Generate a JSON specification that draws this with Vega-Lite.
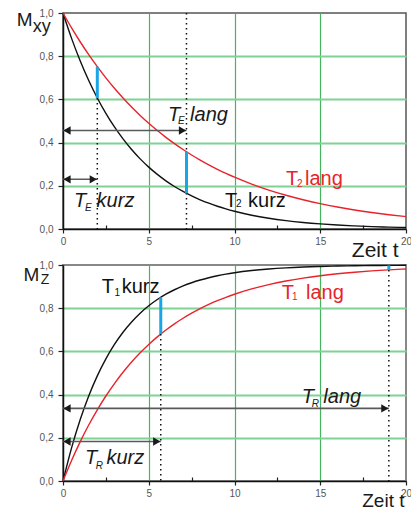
{
  "$schema": "https://vega.github.io/schema/vega-lite/v6.json",
  "padding": {"left": 15, "top": 7, "right": 0, "bottom": 0},
  "bounds": "flush",
  "spacing": 36,
  "config": {
    "font": "Liberation Sans",
    "axis": {
      "labelFont": "Liberation Sans",
      "titleFont": "Liberation Sans",
      "labelFontSize": 10,
      "labelColor": "#555555",
      "domainColor": "#111111",
      "domainWidth": 1.5,
      "tickColor": "#222222",
      "tickWidth": 1.2,
      "labelOverlap": false,
      "labelFlush": false,
      "labelBound": false
    },
    "axisX": {
      "labelExpr": "datum.value % 5 == 0 ? format(datum.value, 'd') : ''",
      "grid": true,
      "gridColor": "#45b45f",
      "gridWidth": 1.2,
      "gridOpacity": {"condition": {"test": "datum.value % 5 != 0 || datum.value == 0 || datum.value == 20", "value": 0}, "value": 1},
      "tickSize": {"condition": {"test": "datum.value % 5 != 0", "value": -4}, "value": 4},
      "labelPadding": 3,
      "titleFontWeight": "normal",
      "titleColor": "#1a1a1a",
      "titleAlign": "right",
      "titleBaseline": "alphabetic"
    },
    "axisY": {
      "labelExpr": "round(datum.value * 10) % 2 == 0 ? replace(format(datum.value, '.1f'), '.', ',') : ''",
      "grid": true,
      "gridColor": "#7fd196",
      "gridWidth": 2,
      "gridOpacity": {"condition": {"test": "round(datum.value * 10) % 2 == 1 || datum.value < 0.05 || datum.value > 0.95", "value": 0}, "value": 1},
      "tickSize": {"condition": {"test": "round(datum.value * 10) % 2 == 1", "value": -4}, "value": 5},
      "labelPadding": 5,
      "title": null
    }
  },
  "datasets": {
    "mxy": [
      {"t": 0, "kurz": 1, "lang": 1},
      {"t": 0.5, "kurz": 0.8825, "lang": 0.9311},
      {"t": 1, "kurz": 0.7788, "lang": 0.8669},
      {"t": 1.5, "kurz": 0.6873, "lang": 0.8071},
      {"t": 2, "kurz": 0.6065, "lang": 0.7515},
      {"t": 2.5, "kurz": 0.5353, "lang": 0.6997},
      {"t": 3, "kurz": 0.4724, "lang": 0.6514},
      {"t": 3.5, "kurz": 0.4169, "lang": 0.6065},
      {"t": 4, "kurz": 0.3679, "lang": 0.5647},
      {"t": 4.5, "kurz": 0.3247, "lang": 0.5258},
      {"t": 5, "kurz": 0.2865, "lang": 0.4895},
      {"t": 5.5, "kurz": 0.2528, "lang": 0.4558},
      {"t": 6, "kurz": 0.2231, "lang": 0.4244},
      {"t": 6.5, "kurz": 0.1969, "lang": 0.3951},
      {"t": 7, "kurz": 0.1738, "lang": 0.3679},
      {"t": 7.5, "kurz": 0.1534, "lang": 0.3425},
      {"t": 8, "kurz": 0.1353, "lang": 0.3189},
      {"t": 8.5, "kurz": 0.1194, "lang": 0.2969},
      {"t": 9, "kurz": 0.1054, "lang": 0.2765},
      {"t": 9.5, "kurz": 0.093, "lang": 0.2574},
      {"t": 10, "kurz": 0.0821, "lang": 0.2397},
      {"t": 11, "kurz": 0.0639, "lang": 0.2079},
      {"t": 12, "kurz": 0.0498, "lang": 0.1801},
      {"t": 13, "kurz": 0.0388, "lang": 0.1561},
      {"t": 14, "kurz": 0.0302, "lang": 0.1353},
      {"t": 15, "kurz": 0.0235, "lang": 0.1173},
      {"t": 16, "kurz": 0.0183, "lang": 0.1017},
      {"t": 17, "kurz": 0.0143, "lang": 0.0881},
      {"t": 18, "kurz": 0.0111, "lang": 0.0764},
      {"t": 19, "kurz": 0.0087, "lang": 0.0662},
      {"t": 20, "kurz": 0.0067, "lang": 0.0574}
    ],
    "mz": [
      {"t": 0, "kurz": 0, "lang": 0},
      {"t": 0.5, "kurz": 0.1535, "lang": 0.0952},
      {"t": 1, "kurz": 0.2835, "lang": 0.1813},
      {"t": 1.5, "kurz": 0.3935, "lang": 0.2592},
      {"t": 2, "kurz": 0.4866, "lang": 0.3297},
      {"t": 2.5, "kurz": 0.5654, "lang": 0.3935},
      {"t": 3, "kurz": 0.6321, "lang": 0.4512},
      {"t": 3.5, "kurz": 0.6886, "lang": 0.5034},
      {"t": 4, "kurz": 0.7364, "lang": 0.5507},
      {"t": 4.5, "kurz": 0.7769, "lang": 0.5934},
      {"t": 5, "kurz": 0.8111, "lang": 0.6321},
      {"t": 5.5, "kurz": 0.8401, "lang": 0.6671},
      {"t": 6, "kurz": 0.8647, "lang": 0.6988},
      {"t": 6.5, "kurz": 0.8854, "lang": 0.7275},
      {"t": 7, "kurz": 0.903, "lang": 0.7534},
      {"t": 7.5, "kurz": 0.9179, "lang": 0.7769},
      {"t": 8, "kurz": 0.9305, "lang": 0.7981},
      {"t": 8.5, "kurz": 0.9412, "lang": 0.8173},
      {"t": 9, "kurz": 0.9502, "lang": 0.8347},
      {"t": 9.5, "kurz": 0.9579, "lang": 0.8504},
      {"t": 10, "kurz": 0.9643, "lang": 0.8647},
      {"t": 11, "kurz": 0.9744, "lang": 0.8892},
      {"t": 12, "kurz": 0.9817, "lang": 0.9093},
      {"t": 13, "kurz": 0.9869, "lang": 0.9257},
      {"t": 14, "kurz": 0.9906, "lang": 0.9392},
      {"t": 15, "kurz": 0.9933, "lang": 0.9502},
      {"t": 16, "kurz": 0.9952, "lang": 0.9592},
      {"t": 17, "kurz": 0.9965, "lang": 0.9666},
      {"t": 18, "kurz": 0.9975, "lang": 0.9727},
      {"t": 19, "kurz": 0.9982, "lang": 0.9776},
      {"t": 20, "kurz": 0.9987, "lang": 0.9817}
    ],
    "mxy_zeitpunkte": [
      {"t": 2, "kurz": 0.6065, "lang": 0.7515, "linie_bis": 0.6065},
      {"t": 7.2, "kurz": 0.1653, "lang": 0.3575, "linie_bis": 1}
    ],
    "mz_zeitpunkte": [
      {"t": 5.7, "kurz": 0.8504, "lang": 0.6802, "linie_bis": 0.6802},
      {"t": 19, "kurz": 0.9982, "lang": 0.9776, "linie_bis": 1}
    ],
    "mxy_pfeile": [
      {"von": 0, "bis": 7.2, "M": 0.456},
      {"von": 0, "bis": 2, "M": 0.23}
    ],
    "mz_pfeile": [
      {"von": 0, "bis": 19, "M": 0.336},
      {"von": 0, "bis": 5.7, "M": 0.183}
    ],
    "mxy_text": [
      {"t": -2.7, "M": 0.938, "text": "M", "dauer": "ohne", "teil": "achse", "schrift": "normal"},
      {"t": -1.77, "M": 0.911, "text": "xy", "dauer": "ohne", "teil": "achse_index", "schrift": "normal"},
      {"t": 13.0, "M": 0.204, "text": "T", "dauer": "lang", "teil": "haupt", "schrift": "normal"},
      {"t": 13.64, "M": 0.194, "text": "2", "dauer": "lang", "teil": "index", "schrift": "normal"},
      {"t": 14.11, "M": 0.204, "text": "lang", "dauer": "lang", "teil": "haupt", "schrift": "normal"},
      {"t": 9.45, "M": 0.103, "text": "T", "dauer": "kurz", "teil": "haupt", "schrift": "normal"},
      {"t": 10.09, "M": 0.1, "text": "2", "dauer": "kurz", "teil": "index", "schrift": "normal"},
      {"t": 10.79, "M": 0.103, "text": "kurz", "dauer": "kurz", "teil": "haupt", "schrift": "normal"},
      {"t": 6.12, "M": 0.501, "text": "T", "dauer": "ohne", "teil": "haupt", "schrift": "kursiv"},
      {"t": 6.71, "M": 0.486, "text": "E", "dauer": "ohne", "teil": "index", "schrift": "kursiv"},
      {"t": 7.41, "M": 0.501, "text": "lang", "dauer": "ohne", "teil": "haupt", "schrift": "kursiv"},
      {"t": 0.64, "M": 0.1, "text": "T", "dauer": "ohne", "teil": "haupt", "schrift": "kursiv"},
      {"t": 1.28, "M": 0.085, "text": "E", "dauer": "ohne", "teil": "index", "schrift": "kursiv"},
      {"t": 1.96, "M": 0.1, "text": "kurz", "dauer": "ohne", "teil": "haupt", "schrift": "kursiv"}
    ],
    "mz_text": [
      {"t": -2.31, "M": 0.925, "text": "M", "dauer": "ohne", "teil": "achse", "schrift": "normal"},
      {"t": -1.3, "M": 0.912, "text": "Z", "dauer": "ohne", "teil": "achse_index_klein", "schrift": "normal"},
      {"t": 2.26, "M": 0.869, "text": "T", "dauer": "kurz", "teil": "haupt", "schrift": "normal"},
      {"t": 3.0, "M": 0.858, "text": "1", "dauer": "kurz", "teil": "index", "schrift": "normal"},
      {"t": 3.42, "M": 0.869, "text": "kurz", "dauer": "kurz", "teil": "haupt", "schrift": "normal"},
      {"t": 12.75, "M": 0.843, "text": "T", "dauer": "lang", "teil": "haupt", "schrift": "normal"},
      {"t": 13.35, "M": 0.838, "text": "1", "dauer": "lang", "teil": "index", "schrift": "normal"},
      {"t": 14.17, "M": 0.843, "text": "lang", "dauer": "lang", "teil": "haupt", "schrift": "normal"},
      {"t": 13.92, "M": 0.361, "text": "T", "dauer": "ohne", "teil": "haupt", "schrift": "kursiv"},
      {"t": 14.5, "M": 0.341, "text": "R", "dauer": "ohne", "teil": "index", "schrift": "kursiv"},
      {"t": 15.18, "M": 0.361, "text": "lang", "dauer": "ohne", "teil": "haupt", "schrift": "kursiv"},
      {"t": 1.28, "M": 0.079, "text": "T", "dauer": "ohne", "teil": "haupt", "schrift": "kursiv"},
      {"t": 1.91, "M": 0.056, "text": "R", "dauer": "ohne", "teil": "index", "schrift": "kursiv"},
      {"t": 2.53, "M": 0.079, "text": "kurz", "dauer": "ohne", "teil": "haupt", "schrift": "kursiv"}
    ]
  },
  "vconcat": [
    {
      "width": 343,
      "height": 216,
      "view": {"stroke": "#555555", "strokeWidth": 1.5},
      "layer": [
        {
          "data": {"name": "mxy"},
          "transform": [{"fold": ["kurz", "lang"], "as": ["dauer", "M"]}],
          "mark": {"type": "line", "strokeWidth": 1.4, "interpolate": "monotone"},
          "encoding": {
            "x": {"field": "t", "type": "quantitative", "scale": {"domain": [0, 20], "nice": false},
                  "axis": {"values": [0, 2.5, 5, 7.5, 10, 12.5, 15, 17.5, 20], "title": "Zeit t", "titleFontSize": 21, "titleX": 335, "titleY": 27}},
            "y": {"field": "M", "type": "quantitative", "scale": {"domain": [0, 1], "nice": false},
                  "axis": {"values": [0, 0.1, 0.2, 0.3, 0.4, 0.5, 0.6, 0.7, 0.8, 0.9, 1]}},
            "color": {"field": "dauer", "type": "nominal", "legend": null,
                      "scale": {"domain": ["kurz", "lang", "ohne"], "range": ["#111111", "#e8232b", "#1a1a1a"]}}
          }
        },
        {
          "data": {"name": "mxy_zeitpunkte"},
          "mark": {"type": "rule", "color": "#111111", "strokeWidth": 1.5, "strokeDash": [1.5, 3.5]},
          "encoding": {
            "x": {"field": "t", "type": "quantitative"},
            "y": {"field": "linie_bis", "type": "quantitative"},
            "y2": {"datum": 0}
          }
        },
        {
          "data": {"name": "mxy_zeitpunkte"},
          "mark": {"type": "rule", "color": "#1aa6e6", "strokeWidth": 3},
          "encoding": {
            "x": {"field": "t", "type": "quantitative"},
            "y": {"field": "kurz", "type": "quantitative"},
            "y2": {"field": "lang"}
          }
        },
        {
          "data": {"name": "mxy_pfeile"},
          "mark": {"type": "rule", "color": "#5a5a5a", "strokeWidth": 1.6},
          "encoding": {
            "x": {"field": "von", "type": "quantitative"},
            "x2": {"field": "bis"},
            "y": {"field": "M", "type": "quantitative"}
          }
        },
        {
          "data": {"name": "mxy_pfeile"},
          "mark": {"type": "point", "shape": "triangle-left", "filled": true, "size": 70, "opacity": 1, "color": "#1a1a1a", "xOffset": 4},
          "encoding": {
            "x": {"field": "von", "type": "quantitative"},
            "y": {"field": "M", "type": "quantitative"}
          }
        },
        {
          "data": {"name": "mxy_pfeile"},
          "mark": {"type": "point", "shape": "triangle-right", "filled": true, "size": 70, "opacity": 1, "color": "#1a1a1a", "xOffset": -4},
          "encoding": {
            "x": {"field": "bis", "type": "quantitative"},
            "y": {"field": "M", "type": "quantitative"}
          }
        },
        {
          "data": {"name": "mxy_text"},
          "transform": [{"filter": "datum.schrift == 'normal'"}],
          "mark": {"type": "text", "align": "left", "baseline": "alphabetic"},
          "encoding": {
            "x": {"field": "t", "type": "quantitative"},
            "y": {"field": "M", "type": "quantitative"},
            "text": {"field": "text"},
            "color": {"field": "dauer", "type": "nominal", "legend": null},
            "size": {"condition": [
              {"test": "datum.teil == 'index'", "value": 10},
              {"test": "datum.teil == 'achse'", "value": 19},
              {"test": "datum.teil == 'achse_index'", "value": 18}
            ], "value": 20}
          }
        },
        {
          "data": {"name": "mxy_text"},
          "transform": [{"filter": "datum.schrift == 'kursiv'"}],
          "mark": {"type": "text", "align": "left", "baseline": "alphabetic", "fontStyle": "italic"},
          "encoding": {
            "x": {"field": "t", "type": "quantitative"},
            "y": {"field": "M", "type": "quantitative"},
            "text": {"field": "text"},
            "color": {"field": "dauer", "type": "nominal", "legend": null},
            "size": {"condition": {"test": "datum.teil == 'index'", "value": 10}, "value": 20}
          }
        }
      ]
    },
    {
      "width": 343,
      "height": 216,
      "view": {"stroke": "#888888", "strokeWidth": 2},
      "layer": [
        {
          "data": {"name": "mz"},
          "transform": [{"fold": ["kurz", "lang"], "as": ["dauer", "M"]}],
          "mark": {"type": "line", "strokeWidth": 1.4, "interpolate": "monotone"},
          "encoding": {
            "x": {"field": "t", "type": "quantitative", "scale": {"domain": [0, 20], "nice": false},
                  "axis": {"values": [0, 2.5, 5, 7.5, 10, 12.5, 15, 17.5, 20], "title": "Zeit t", "titleFontSize": 19, "titleX": 341, "titleY": 25}},
            "y": {"field": "M", "type": "quantitative", "scale": {"domain": [0, 1], "nice": false},
                  "axis": {"values": [0, 0.1, 0.2, 0.3, 0.4, 0.5, 0.6, 0.7, 0.8, 0.9, 1]}},
            "color": {"field": "dauer", "type": "nominal", "legend": null,
                      "scale": {"domain": ["kurz", "lang", "ohne"], "range": ["#111111", "#e8232b", "#1a1a1a"]}}
          }
        },
        {
          "data": {"name": "mz_zeitpunkte"},
          "mark": {"type": "rule", "color": "#111111", "strokeWidth": 1.5, "strokeDash": [1.5, 3.5]},
          "encoding": {
            "x": {"field": "t", "type": "quantitative"},
            "y": {"field": "linie_bis", "type": "quantitative"},
            "y2": {"datum": 0}
          }
        },
        {
          "data": {"name": "mz_zeitpunkte"},
          "mark": {"type": "rule", "color": "#1aa6e6", "strokeWidth": 3},
          "encoding": {
            "x": {"field": "t", "type": "quantitative"},
            "y": {"field": "kurz", "type": "quantitative"},
            "y2": {"field": "lang"}
          }
        },
        {
          "data": {"name": "mz_pfeile"},
          "mark": {"type": "rule", "color": "#5a5a5a", "strokeWidth": 1.6},
          "encoding": {
            "x": {"field": "von", "type": "quantitative"},
            "x2": {"field": "bis"},
            "y": {"field": "M", "type": "quantitative"}
          }
        },
        {
          "data": {"name": "mz_pfeile"},
          "mark": {"type": "point", "shape": "triangle-left", "filled": true, "size": 70, "opacity": 1, "color": "#1a1a1a", "xOffset": 4},
          "encoding": {
            "x": {"field": "von", "type": "quantitative"},
            "y": {"field": "M", "type": "quantitative"}
          }
        },
        {
          "data": {"name": "mz_pfeile"},
          "mark": {"type": "point", "shape": "triangle-right", "filled": true, "size": 70, "opacity": 1, "color": "#1a1a1a", "xOffset": -4},
          "encoding": {
            "x": {"field": "bis", "type": "quantitative"},
            "y": {"field": "M", "type": "quantitative"}
          }
        },
        {
          "data": {"name": "mz_text"},
          "transform": [{"filter": "datum.schrift == 'normal'"}],
          "mark": {"type": "text", "align": "left", "baseline": "alphabetic"},
          "encoding": {
            "x": {"field": "t", "type": "quantitative"},
            "y": {"field": "M", "type": "quantitative"},
            "text": {"field": "text"},
            "color": {"field": "dauer", "type": "nominal", "legend": null},
            "size": {"condition": [
              {"test": "datum.teil == 'index'", "value": 10},
              {"test": "datum.teil == 'achse'", "value": 19},
              {"test": "datum.teil == 'achse_index_klein'", "value": 14}
            ], "value": 20}
          }
        },
        {
          "data": {"name": "mz_text"},
          "transform": [{"filter": "datum.schrift == 'kursiv'"}],
          "mark": {"type": "text", "align": "left", "baseline": "alphabetic", "fontStyle": "italic"},
          "encoding": {
            "x": {"field": "t", "type": "quantitative"},
            "y": {"field": "M", "type": "quantitative"},
            "text": {"field": "text"},
            "color": {"field": "dauer", "type": "nominal", "legend": null},
            "size": {"condition": {"test": "datum.teil == 'index'", "value": 10}, "value": 20}
          }
        }
      ]
    }
  ]
}
